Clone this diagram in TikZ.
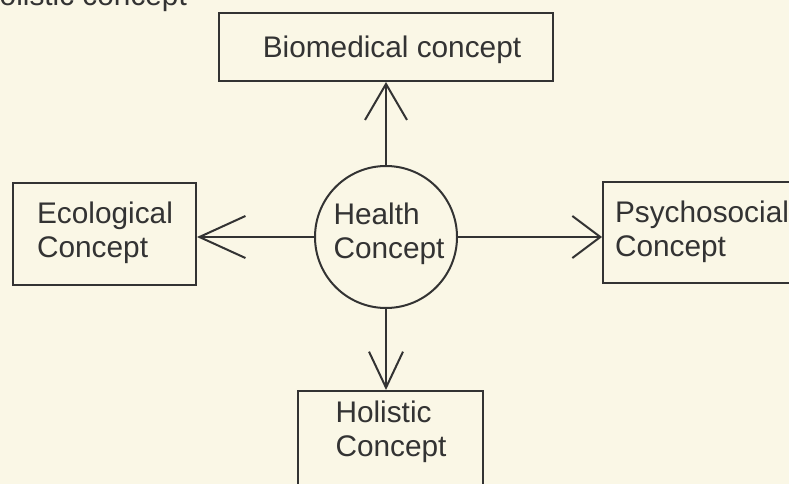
\documentclass[tikz,border=0pt]{standalone}
\usepackage{fontspec}
\setmainfont{Liberation Sans}
\usetikzlibrary{arrows.meta}
\definecolor{paper}{HTML}{FAF7E6}
\definecolor{ink}{HTML}{333333}
\tikzset{
  box/.style={draw=ink, line width=2pt, rectangle, inner sep=0pt},
  lbl/.style={text=ink, font=\fontsize{29.8}{34}\selectfont, align=left, inner sep=0pt},
  conn/.style={draw=ink, line width=2pt},
  barb/.style={-{Straight Barb[length=#1, width=42pt, line width=2pt]}},
}
\begin{document}
\begin{tikzpicture}[x=1pt, y=-1pt]
  \fill[paper] (0,0) rectangle (789,484);
  \useasboundingbox (0,0) rectangle (789,484);
  \begin{scope}
    \clip (0,0) rectangle (789,484);
    \node[lbl, anchor=base west] (cap) at (-22,6) {Holistic concept};
    \node[box, minimum width=334pt, minimum height=68pt] (bio) at (386,47) {};
    \node[lbl] (biot) at (392,50) {Biomedical concept};
    \node[box, minimum width=183pt, minimum height=102pt] (eco) at (104.5,234) {};
    \node[lbl] (ecot) at (105,233) {Ecological\\Concept};
    \node[box, minimum width=198pt, minimum height=101pt] (psy) at (702,232.5) {};
    \node[lbl] (psyt) at (702,232) {Psychosocial\\Concept};
    \node[box, minimum width=185pt, minimum height=110pt] (hol) at (390.5,446) {};
    \node[lbl] (holt) at (391,432) {Holistic\\Concept};
    \node[draw=ink, line width=2pt, circle, minimum size=142pt, inner sep=0pt] (hc) at (386,237) {};
    \node[lbl] (hct) at (389,234) {Health\\Concept};
    \draw[conn, barb=36pt] (hc.north) -- (bio.south -| hc.north);
    \draw[conn, barb=46pt] (hc.west) -- (eco.east |- hc.west);
    \draw[conn, barb=28pt] (hc.east) -- (psy.west |- hc.east);
    \draw[conn, -{Straight Barb[length=36pt, width=34pt, line width=2pt]}] (hc.south) -- (hol.north -| hc.south);
  \end{scope}
\end{tikzpicture}
\end{document}
